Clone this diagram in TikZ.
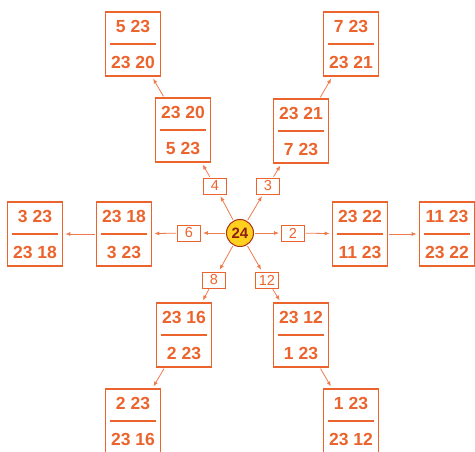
\documentclass[tikz,border=0pt]{standalone}
\usepackage{fontspec}
\setmainfont{Liberation Sans}
\usetikzlibrary{arrows.meta}
\definecolor{org}{RGB}{236,100,45}
\definecolor{gold}{RGB}{255,208,30}
\definecolor{dred}{RGB}{140,30,20}
\tikzset{
 fracbox/.style={draw=org, line width=1.6pt, minimum width=55pt, minimum height=64pt, inner sep=0pt, fill=white},
 fractext/.style={text=org, font=\bfseries\fontsize{17.5}{18}\selectfont, inner sep=0pt},
 fracrule/.style={draw=org, line width=1.6pt},
 numbox/.style={draw=org, line width=0.9pt, minimum width=23pt, minimum height=16pt, inner sep=0pt, text=org, font=\fontsize{14.5}{15}\selectfont},
 hub/.style={circle, draw=dred!70!org, fill=gold, line width=1pt, minimum size=27pt, inner sep=0pt, text=dred, font=\bfseries\fontsize{15}{15}\selectfont},
 link/.style={draw=org!85, line width=0.8pt, -{Latex[length=5pt,width=4pt]}, shorten >=2pt, shorten <=1pt}
}
\newcommand{\fracnode}[4]{%
 \node[fracbox] (#1) at (#2) {};
 \node[fractext] (#1-t) at ([yshift=18pt]#1.center) {#3};
 \node[fractext] (#1-b) at ([yshift=-18pt]#1.center) {#4};
 \draw[fracrule] ([xshift=5pt]#1.west) -- ([xshift=-5pt]#1.east);
}
\begin{document}
\begin{tikzpicture}[x=1pt,y=1pt]
\useasboundingbox (0,0) rectangle (475,452);
\node[hub] (c) at (240,219) {24};
\node[numbox] (n4) at (215,266) {4};
\node[numbox] (n3) at (268,266) {3};
\node[numbox] (n6) at (189,219) {6};
\node[numbox] (n2) at (293,219) {2};
\node[numbox] (n8) at (214,172) {8};
\node[numbox] (n12) at (267,172) {12};
\fracnode{tlo}{133,408}{5 23}{23 20}
\fracnode{tli}{183,322}{23 20}{5 23}
\fracnode{tri}{301,321}{23 21}{7 23}
\fracnode{tro}{351,408}{7 23}{23 21}
\fracnode{lo}{35,218}{3 23}{23 18}
\fracnode{li}{124,218}{23 18}{3 23}
\fracnode{ri}{360,218}{23 22}{11 23}
\fracnode{ro}{447,218}{11 23}{23 22}
\fracnode{bli}{184,117}{23 16}{2 23}
\fracnode{blo}{133,31}{2 23}{23 16}
\fracnode{bri}{301,117}{23 12}{1 23}
\fracnode{bro}{351,31}{1 23}{23 12}
\foreach \n in {n4,n3,n6,n2,n8,n12} \draw[link] (c) -- (\n);
\draw[link] (n4) -- (tli);
\draw[link] (tli) -- (tlo);
\draw[link] (n3) -- (tri);
\draw[link] (tri) -- (tro);
\draw[link] (n6) -- (li);
\draw[link] (li) -- (lo);
\draw[link] (n2) -- (ri);
\draw[link] (ri) -- (ro);
\draw[link] (n8) -- (bli);
\draw[link] (bli) -- (blo);
\draw[link] (n12) -- (bri);
\draw[link] (bri) -- (bro);
\end{tikzpicture}
\end{document}
